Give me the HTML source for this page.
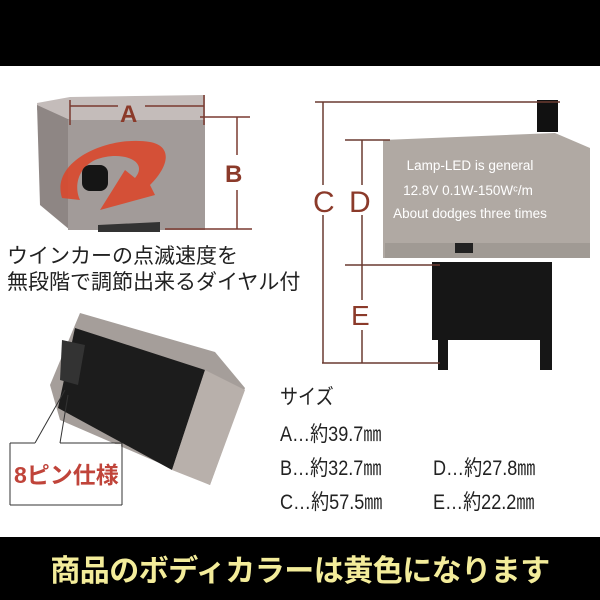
<!DOCTYPE html>
<html><head><meta charset="utf-8"><style>
body{margin:0;width:600px;height:600px;overflow:hidden;background:#fff;position:relative;font-family:"Liberation Sans","Noto Sans CJK JP",sans-serif}
.a{position:absolute}
.t{position:absolute;white-space:nowrap;color:#222}
.s{transform:scaleX(0.86);transform-origin:0 0;font-size:21px}
</style></head><body>
<div class="a" style="left:0;top:0;width:600px;height:66px;background:#000"></div>
<div class="a" style="left:0;top:537px;width:600px;height:63px;background:#000"></div>
<div class="t" style="left:0;width:600px;top:546px;text-align:center;font-size:30px;font-weight:bold;color:#f3ec9a;letter-spacing:-0.5px">商品のボディカラーは黄色になります</div>

<svg class="a" style="left:0;top:0" width="600" height="600">
 <polygon points="37,103 70,97 205,95 205,125 70,125 37,110" fill="#c4bcba"/>
 <polygon points="37,105 70,120 70,230 40,205" fill="#8e8684"/>
 <rect x="68" y="120" width="137" height="110" fill="#a29b99"/>
 <polygon points="98,225 160,222 160,232 98,232" fill="#333"/>
 <path d="M62,198 C50,160 110,135 150,142 C172,146 170,165 150,185 L155,195 L100,210 L125,170 L135,178 C150,160 120,150 95,160 C75,170 75,190 80,200 Z" fill="#d9482c" opacity="0.9"/>
 <rect x="82" y="165" width="26" height="26" rx="8" fill="#151515"/>
 <g stroke="#7a3a30" stroke-width="1.5" fill="none">
  <line x1="70" y1="100" x2="70" y2="125"/><line x1="204" y1="95" x2="204" y2="125"/>
  <line x1="70" y1="106" x2="118" y2="106"/><line x1="145" y1="106" x2="204" y2="106"/>
  <line x1="200" y1="117" x2="250" y2="117"/><line x1="165" y1="229" x2="252" y2="229"/>
  <line x1="237" y1="117" x2="237" y2="155"/><line x1="237" y1="190" x2="237" y2="229"/>
 </g>
 <text x="120" y="122" font-size="24" fill="#8b3a2a" font-family="Liberation Sans" font-weight="bold">A</text>
 <text x="225" y="182" font-size="24" fill="#8b3a2a" font-family="Liberation Sans" font-weight="bold">B</text>

 <rect x="537" y="100" width="21" height="32" fill="#111"/>
 <polygon points="383,140 555,133 590,148 590,258 383,258" fill="#b0a9a3"/>
 <rect x="385" y="243" width="205" height="15" fill="#a09a94"/>
 <rect x="455" y="243" width="18" height="10" fill="#222"/>
 <rect x="432" y="262" width="120" height="78" fill="#161616"/>
 <rect x="438" y="335" width="10" height="35" fill="#161616"/>
 <rect x="540" y="262" width="12" height="108" fill="#161616"/>
 <text x="470" y="170" font-size="13.5" fill="#fff" text-anchor="middle" font-family="Liberation Sans">Lamp-LED is general</text>
 <text x="468" y="195" font-size="13.5" fill="#fff" text-anchor="middle" font-family="Liberation Sans">12.8V 0.1W-150Wᶜ/m</text>
 <text x="470" y="218" font-size="13.5" fill="#fff" text-anchor="middle" font-family="Liberation Sans">About dodges three times</text>
 <g stroke="#6a3a30" stroke-width="1.5" fill="none">
  <line x1="315" y1="102" x2="560" y2="102"/>
  <line x1="345" y1="140" x2="390" y2="140"/>
  <line x1="345" y1="265" x2="440" y2="265"/>
  <line x1="322" y1="363" x2="440" y2="363"/>
  <line x1="323" y1="102" x2="323" y2="185"/><line x1="323" y1="215" x2="323" y2="363"/>
  <line x1="362" y1="140" x2="362" y2="185"/><line x1="362" y1="215" x2="362" y2="300"/><line x1="362" y1="330" x2="362" y2="363"/>
 </g>
 <text x="313" y="212" font-size="30" fill="#8b3a2a" font-family="Liberation Sans">C</text>
 <text x="349" y="212" font-size="30" fill="#8b3a2a" font-family="Liberation Sans">D</text>
 <text x="351" y="325" font-size="28" fill="#8b3a2a" font-family="Liberation Sans">E</text>

 <polygon points="80,313 215,352 245,388 210,485 60,420 50,385" fill="#a59e9a"/>
 <polygon points="75,328 205,370 172,470 58,408" fill="#1c1c1c"/>
 <polygon points="62,340 85,345 78,385 60,380" fill="#333"/>
 <polygon points="172,470 205,370 245,390 210,485" fill="#b8b0ab"/>
 <g stroke="#333" stroke-width="1" fill="none">
  <line x1="10" y1="443" x2="35" y2="443"/><line x1="60" y1="443" x2="122" y2="443"/>
  <line x1="10" y1="443" x2="10" y2="505"/><line x1="10" y1="505" x2="122" y2="505"/><line x1="122" y1="443" x2="122" y2="505"/>
  <line x1="35" y1="443" x2="65" y2="390"/><line x1="60" y1="443" x2="68" y2="395"/>
 </g>
 <rect x="11" y="444" width="110" height="60" fill="#fff" opacity="0.9"/>
</svg>
<div class="t" style="left:14px;top:456px;font-size:23px;font-weight:bold;color:#c0443a">8ピン仕様</div>

<div class="t" style="left:7px;top:240px;font-size:21px">ウインカーの点滅速度を</div>
<div class="t" style="left:7px;top:266px;font-size:21px">無段階で調節出来るダイヤル付</div>

<div class="t s" style="left:280px;top:381px">サイズ</div>
<div class="t s" style="left:280px;top:418px">A…約39.7㎜</div>
<div class="t s" style="left:280px;top:452px">B…約32.7㎜</div>
<div class="t s" style="left:280px;top:486px">C…約57.5㎜</div>
<div class="t s" style="left:433px;top:452px">D…約27.8㎜</div>
<div class="t s" style="left:433px;top:486px">E…約22.2㎜</div>
</body></html>
